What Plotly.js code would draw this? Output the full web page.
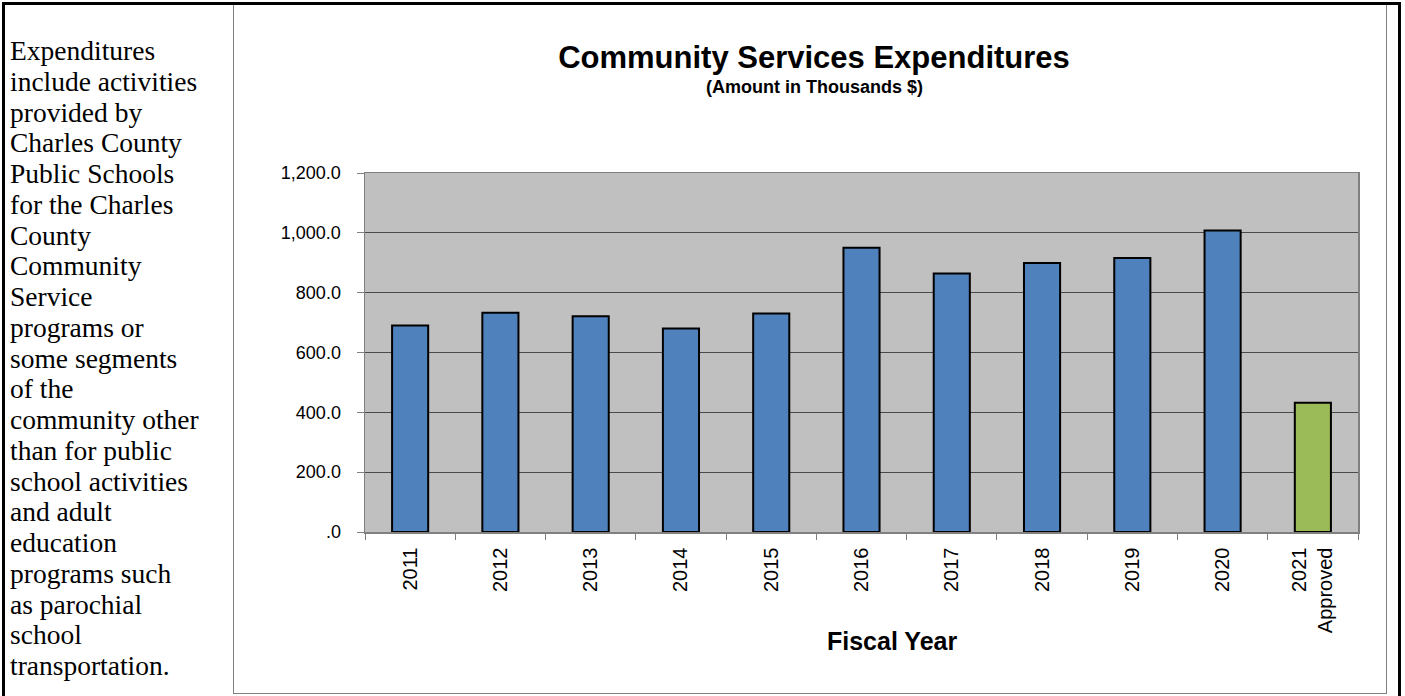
<!DOCTYPE html>
<html>
<head>
<meta charset="utf-8">
<script src="https://cdn.plot.ly/plotly-3.0.1.min.js"></script>
<style>
  html, body { margin: 0; padding: 0; background: #fff; }
  #wrap { position: relative; width: 1405px; height: 696px; overflow: hidden; }
  #chart { position: absolute; left: 0; top: 0; width: 1405px; height: 696px; }
  .line { position: absolute; }
  #note { position: absolute; left: 10px; top: 36px; width: 222px;
          font-family: "Liberation Serif", "Times New Roman", serif; font-size: 27.5px;
          line-height: 30.75px; color: #000; white-space: nowrap; }
</style>
</head>
<body>
<div id="wrap">
  <div id="chart"></div>
  <div class="line" style="left:2px;top:2px;width:1399px;height:3px;background:#000"></div>
  <div class="line" style="left:2px;top:2px;width:3px;height:694px;background:#000"></div>
  <div class="line" style="left:1398px;top:2px;width:3px;height:694px;background:#000"></div>
  <div class="line" style="left:233px;top:5px;width:1px;height:689px;background:#808080"></div>
  <div class="line" style="left:1386px;top:5px;width:1px;height:689px;background:#808080"></div>
  <div class="line" style="left:233px;top:693px;width:1154px;height:1px;background:#808080"></div>
  <div id="note"></div>
</div>
<script>
// ---- data ----
const noteLines = ["Expenditures", "include activities", "provided by", "Charles County",
  "Public Schools", "for the Charles", "County", "Community", "Service", "programs or",
  "some segments", "of the", "community other", "than for public", "school activities",
  "and adult", "education", "programs such", "as parochial", "school", "transportation."];
const categories = ["2011", "2012", "2013", "2014", "2015", "2016", "2017", "2018", "2019", "2020", "2021<br>Approved"];
const values = [690, 733, 721, 680, 730, 950, 864, 899, 916, 1008, 432];
const barColors = ["#4F81BD", "#4F81BD", "#4F81BD", "#4F81BD", "#4F81BD", "#4F81BD", "#4F81BD", "#4F81BD", "#4F81BD", "#4F81BD", "#9BBB59"];
const yTickVals = [0, 200, 400, 600, 800, 1000, 1200];
const yTickText = [".0", "200.0", "400.0", "600.0", "800.0", "1,000.0", "1,200.0"];
const titleText = "Community Services Expenditures";
const subtitleText = "(Amount in Thousands $)";
const xTitleText = "Fiscal Year";

document.getElementById("note").innerHTML = noteLines.join("<br>");

const FONT = "Liberation Sans, Arial, sans-serif";
const trace = {
  type: "bar",
  x: categories,
  y: values,
  marker: { color: barColors, line: { color: "#000", width: 2 } },
  hoverinfo: "none"
};
const W = 1405, H = 696;
const L = 365, R = 1358, T = 173, B = 532;
const layout = {
  width: W, height: H,
  margin: { l: L, r: W - R, t: T, b: H - B, pad: 0 },
  paper_bgcolor: "rgba(0,0,0,0)",
  plot_bgcolor: "#C0C0C0",
  bargap: 0.6,
  showlegend: false,
  title: {
    text: "<b>" + titleText + "</b>",
    font: { family: FONT, size: 31, color: "#000" },
    xref: "paper", x: (814 - L) / (R - L), xanchor: "center",
    yref: "container", y: 1 - 57 / H, yanchor: "middle"
  },
  annotations: [
    { text: "<b>" + subtitleText + "</b>", xref: "paper", yref: "paper",
      x: (814 - L) / (R - L), y: (B - 87) / (B - T), xanchor: "center", yanchor: "middle",
      showarrow: false, font: { family: FONT, size: 18, color: "#000" } },
    { text: "<b>" + xTitleText + "</b>", xref: "paper", yref: "paper",
      x: (892 - L) / (R - L), y: (B - 641) / (B - T), xanchor: "center", yanchor: "middle",
      showarrow: false, font: { family: FONT, size: 25, color: "#000" } }
  ],
  xaxis: {
    type: "category",
    tickangle: -90,
    ticks: "outside", tickson: "boundaries", ticklen: 6, tickcolor: "#808080", tickwidth: 1,
    ticklabelstandoff: 6,
    showline: true, linecolor: "#808080", linewidth: 1.5, mirror: true,
    showgrid: false,
    tickfont: { family: FONT, size: 20, color: "#000" },
    fixedrange: true
  },
  yaxis: {
    range: [0, 1200],
    tickmode: "array", tickvals: yTickVals, ticktext: yTickText,
    ticks: "outside", ticklen: 7, tickcolor: "#808080", tickwidth: 1,
    ticklabelstandoff: 12,
    showline: true, linecolor: "#808080", linewidth: 1.5, mirror: true,
    showgrid: true, gridcolor: "#4a4a4a", gridwidth: 1.2,
    zeroline: false,
    tickfont: { family: FONT, size: 18, color: "#000" },
    fixedrange: true
  }
};
Plotly.newPlot("chart", [trace], layout, { displayModeBar: false, staticPlot: true });
</script>
</body>
</html>
